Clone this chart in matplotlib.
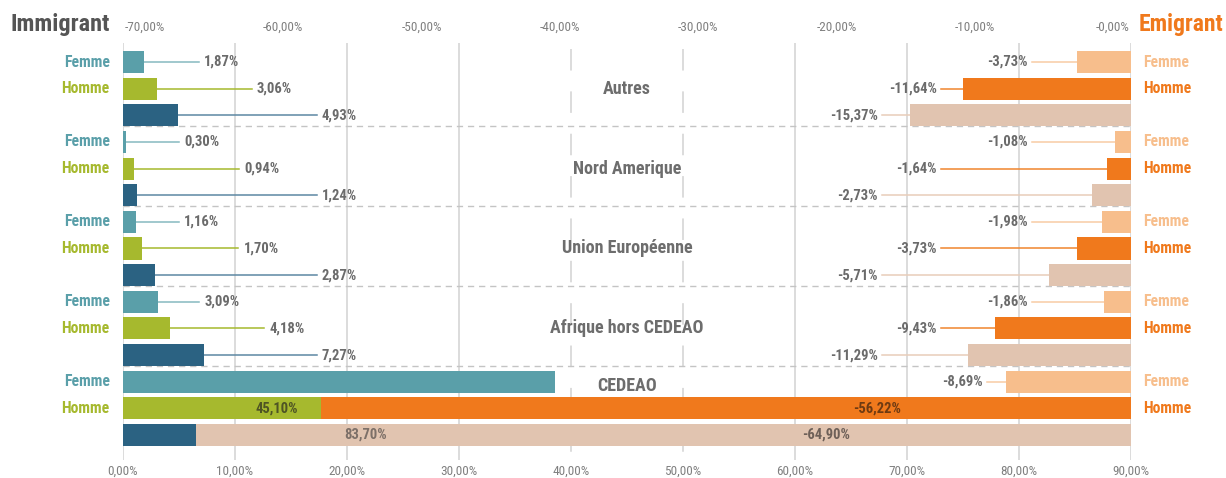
import matplotlib
matplotlib.use("Agg")
import matplotlib.pyplot as plt
from matplotlib import font_manager

# pick a condensed family if one is installed, else fall back to Liberation Sans
_names = {f.name for f in font_manager.fontManager.ttflist}
_cond = [n for n in ("Liberation Sans Narrow", "Roboto Condensed", "Open Sans Condensed",
                     "Noto Sans Condensed", "Arial Narrow", "Nimbus Sans Narrow",
                     "DejaVu Sans Condensed") if n in _names]
if _cond:
    BASE = _cond[0]
    SC = 1.0
else:
    BASE = "Liberation Sans"
    SC = 0.82
plt.rcParams['font.family'] = [BASE, 'DejaVu Sans']

# ---------------- data ----------------
regions = ["Autres", "Nord Amerique", "Union Européenne", "Afrique hors CEDEAO", "CEDEAO"]
imm_femme = [1.87, 0.30, 1.16, 3.09, 38.60]
imm_homme = [3.06, 0.94, 1.70, 4.18, 45.10]
imm_total = [4.93, 1.24, 2.87, 7.27, 83.70]
emi_femme = [-3.73, -1.08, -1.98, -1.86, -8.69]
emi_homme = [-11.64, -1.64, -3.73, -9.43, -56.22]
emi_total = [-15.37, -2.73, -5.71, -11.29, -64.90]
bottom_ticks = [0, 10, 20, 30, 40, 50, 60, 70, 80, 90]
top_ticks = [-70, -60, -50, -40, -30, -20, -10, 0]

# ---------------- styles ----------------
C_IF, C_IH, C_IT = "#5a9fa9", "#a6b92e", "#2b6282"
C_EF, C_EH, C_ET = "#f7be8c", "#f0791c", "#e1c4b0"
L_IF, L_IH, L_IT = "#86b9c0", "#a6b92e", "#5d88a3"
L_EF, L_EH, L_ET = "#f8cba4", "#f0852e", "#e8cdb9"
TXT = "#6b6b6b"
GRID = "#dcdcdc"

def fmt(v):
    return f"{v:.2f}".replace(".", ",") + "%"

W, H = 1226, 478
fig = plt.figure(figsize=(W / 100, H / 100), dpi=100)
ax_l, ax_r = 123 / W, 1131 / W
ax_t, ax_b = 43 / H, 460 / H
ax = fig.add_axes([ax_l, 1 - ax_b, ax_r - ax_l, ax_b - ax_t])
ax2 = ax.twiny()

row_px = 26.64
first_px = 62
ytop = (43 - first_px) / row_px
ybot = (460 - first_px) / row_px
for a in (ax, ax2):
    a.set_ylim(ybot, ytop)
    for s in a.spines.values():
        s.set_visible(False)
ax.set_xlim(0, 90)
ax2.set_xlim(-70, 0)

# ticks (top labels are spread evenly, slightly inset from the axis ends)
ax.set_xticks(bottom_ticks)
ax.set_xticklabels([fmt(t) for t in bottom_ticks])
top_span = 70.0
inset = 22 / 14.4
step = (top_span - 2 * inset + (22 - 18) / 14.4) / (len(top_ticks) - 1)
top_pos = [-top_span + inset + step * k for k in range(len(top_ticks))]
ax2.set_xticks(top_pos)
ax2.set_xticklabels([("-" + fmt(abs(t))) for t in top_ticks])
ax.tick_params(axis='x', length=0, pad=3.5, labelsize=9.5 * SC, labelcolor="#808080")
ax2.tick_params(axis='x', length=0, pad=7, labelsize=9.5 * SC, labelcolor="#808080")
ax.set_yticks([])
ax2.set_yticks([])

# vertical grid lines
glw = 1.4
for t in bottom_ticks:
    if t in (40, 50):
        ax.plot([t, t], [(49 - first_px) / row_px, ybot], color=GRID, lw=glw,
                dashes=(15.5 / glw, 15.0 / glw), zorder=0, solid_capstyle='butt')
    else:
        ax.plot([t, t], [ybot, ytop], color=GRID, lw=glw, zorder=0)

# group separators
for g in range(len(regions) - 1):
    yy = 3 * g + 2 + 0.41
    ax.plot([0, 90], [yy, yy], color="#c4c4c4", lw=1.0, dashes=(4.5, 3.5), zorder=0.5)

bh = 0.83
n = len(regions)
rows_f = [3 * i for i in range(n)]
rows_h = [3 * i + 1 for i in range(n)]
rows_t = [3 * i + 2 for i in range(n)]

# bars
ax.barh(rows_f, imm_femme, height=bh, color=C_IF, zorder=2)
ax.barh(rows_h, imm_homme, height=bh, color=C_IH, zorder=2)
ax.barh(rows_t, imm_total, height=bh, color=C_IT, zorder=2)
ax2.barh(rows_f, emi_femme, height=bh, color=C_EF, zorder=2)
ax2.barh(rows_h, emi_homme, height=bh, color=C_EH, zorder=2)
ax2.barh(rows_t, emi_total, height=bh, color=C_ET, zorder=2)

# leader-line end positions (layout, in axis units)
imm_lead_f = [6.8, 5.0, 5.0, 6.8]
imm_lead_h = [11.5, 10.4, 10.3, 12.6]
imm_lead_t = 17.3
emi_lead_f = -6.9
emi_lead_h = -13.2
emi_lead_t = -17.3

fs = 10.5 * SC
for i in range(n - 1):
    for vals, rows, lead, lc in ((imm_femme, rows_f, imm_lead_f[i], L_IF),
                                 (imm_homme, rows_h, imm_lead_h[i], L_IH),
                                 (imm_total, rows_t, imm_lead_t, L_IT)):
        v, r = vals[i], rows[i]
        ax.plot([v, lead], [r, r], color=lc, lw=1.1, zorder=1.5)
        ax.text(lead + 0.45, r, fmt(v), ha='left', va='center', fontsize=fs,
                fontweight='bold', color=TXT, zorder=3)

for i in range(n):
    for vals, rows, lead, lc in ((emi_femme, rows_f, emi_lead_f, L_EF),
                                 (emi_homme, rows_h, emi_lead_h, L_EH),
                                 (emi_total, rows_t, emi_lead_t, L_ET)):
        v, r = vals[i], rows[i]
        if i == n - 1 and vals is not emi_femme:
            continue
        start = min(lead, v - 1.3)
        ax2.plot([start, v], [r, r], color=lc, lw=1.1, zorder=1.5)
        ax2.text(start - 0.3, r, fmt(v), ha='right', va='center', fontsize=fs,
                 fontweight='bold', color=TXT, zorder=3)

# in-bar labels for CEDEAO
k = n - 1
ax2.text((277 - 1131) / 14.4, rows_h[k], fmt(imm_homme[k]), ha='center', va='center',
         fontsize=fs, fontweight='bold', color="#4e5424", zorder=4)
ax2.text((366 - 1131) / 14.4, rows_t[k], fmt(imm_total[k]), ha='center', va='center',
         fontsize=fs, fontweight='bold', color="#7d7068", zorder=4)
ax2.text(-17.6, rows_h[k], fmt(emi_homme[k]), ha='center', va='center',
         fontsize=fs, fontweight='bold', color="#6e3a12", zorder=4)
ax2.text(-21.2, rows_t[k], fmt(emi_total[k]), ha='center', va='center',
         fontsize=fs, fontweight='bold', color="#6e6058", zorder=4)

# region labels
reg_rows = [3 * i + 1 for i in range(n - 1)] + [3 * (n - 1) + 0.15]
for name, r in zip(regions, reg_rows):
    ax2.text(-35.0, r, name, ha='center', va='center', fontsize=13 * SC,
             fontweight='bold', color="#6d6d6d", zorder=5)

# side labels
for i in range(n):
    for txt, row, col, xf, off, ha in (("Femme", rows_f[i], C_IF, 0, -9.5, 'right'),
                                       ("Homme", rows_h[i], C_IH, 0, -9.5, 'right'),
                                       ("Femme", rows_f[i], C_EF, 1, 8.5, 'left'),
                                       ("Homme", rows_h[i], C_EH, 1, 8.5, 'left')):
        ax.annotate(txt, xy=(xf, row), xycoords=('axes fraction', 'data'),
                    xytext=(off, 0), textcoords='offset points', ha=ha, va='center',
                    fontsize=11.3 * SC, fontweight='bold', color=col)

# titles
fig.text(10 / W, 1 - 24 / H, "Immigrant", ha='left', va='center', fontsize=17.5 * SC,
         fontweight='bold', color="#555555")
fig.text(1223 / W, 1 - 24 / H, "Emigrant", ha='right', va='center', fontsize=17 * SC,
         fontweight='bold', color=C_EH)

fig.savefig("out.png", dpi=100)
